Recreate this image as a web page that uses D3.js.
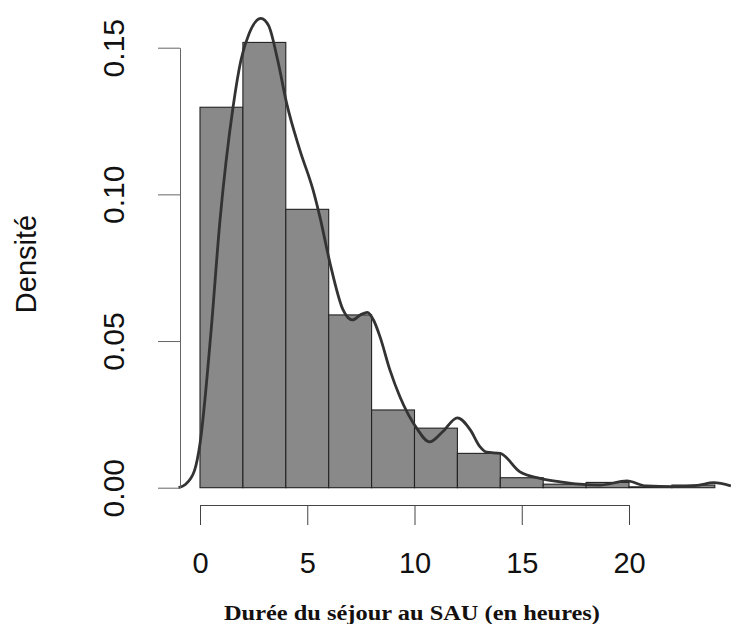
<!DOCTYPE html>
<html>
<head>
<meta charset="utf-8">
<script src="https://cdn.jsdelivr.net/npm/d3@7"></script>
<style>
  html, body { margin: 0; padding: 0; background: #fff; }
  svg { display: block; }
</style>
</head>
<body>
<div id="chart"></div>
<script>
// histogram bins (hours) and their densities
const binStarts = [0, 2, 4, 6, 8, 10, 12, 14, 16, 18, 20, 22];
const binWidth = 2;
const binDensity = [0.1297, 0.1518, 0.0949, 0.0589, 0.0265, 0.0203, 0.0117, 0.0034, 0.0012, 0.0018, 0.0003, 0.0009];

// kernel density curve
const densX = [-1.0, -0.7, -0.25, 0, 0.5, 0.93, 1.54, 1.91, 2.3, 2.84, 3.2, 3.62, 4.04, 4.66, 5.27, 5.6, 6.06, 6.67, 7.1, 7.5, 7.8, 8.1, 8.39, 8.86, 9.32, 10.1, 10.7, 11.3, 12.0, 12.6, 13.05, 13.37, 14.0, 14.9, 15.85, 16.8, 17.7, 18.65, 19.9, 20.8, 22.1, 23.2, 23.95, 24.75];
const densY = [0, 0.001, 0.006, 0.015, 0.052, 0.091, 0.1297, 0.1458, 0.155, 0.160, 0.1575, 0.1458, 0.131, 0.115, 0.1015, 0.092, 0.0766, 0.0606, 0.0572, 0.059, 0.0598, 0.057, 0.0515, 0.040, 0.031, 0.0203, 0.0156, 0.019, 0.0238, 0.0197, 0.014, 0.0121, 0.0117, 0.0055, 0.0032, 0.002, 0.0012, 0.0009, 0.0023, 0.0006, 0.0004, 0.0008, 0.0017, 0.0006];

const xTicks = [0, 5, 10, 15, 20];
const yTicks = [0, 0.05, 0.10, 0.15];

const width = 731, height = 624;

const svg = d3.select('#chart').append('svg')
    .attr('width', width)
    .attr('height', height);

svg.append('rect').attr('width', width).attr('height', height).attr('fill', '#fff');

const x = d3.scaleLinear().domain([0, 20]).range([200, 629]);
const y = d3.scaleLinear().domain([0, 0.15]).range([487.7, 47.7]);

// bars
svg.append('g')
    .selectAll('rect')
    .data(binStarts)
    .enter().append('rect')
    .attr('x', d => x(d))
    .attr('width', d => x(d + binWidth) - x(d))
    .attr('y', (d, i) => y(binDensity[i]))
    .attr('height', (d, i) => y(0) - y(binDensity[i]))
    .attr('fill', '#898989')
    .attr('stroke', '#222')
    .attr('stroke-width', 1.1);

// density line
const line = d3.line()
    .x(d => x(d[0]))
    .y(d => y(d[1]))
    .curve(d3.curveMonotoneX);

svg.append('path')
    .datum(densX.map((v, i) => [v, densY[i]]))
    .attr('d', line)
    .attr('fill', 'none')
    .attr('stroke', '#333')
    .attr('stroke-width', 2.8)
    .attr('stroke-linejoin', 'round');

// y axis
const yAxis = svg.append('g')
    .attr('transform', 'translate(180,0)')
    .call(d3.axisLeft(y).tickValues(yTicks).tickFormat(d3.format('.2f')).tickSize(22).tickSizeOuter(0));
yAxis.select('.domain').attr('stroke', '#666');
yAxis.selectAll('.tick line').attr('stroke', '#666');
yAxis.selectAll('.tick text')
    .attr('x', null).attr('dy', null)
    .attr('transform', 'translate(-56,0) rotate(-90)')
    .attr('text-anchor', 'middle')
    .attr('font-family', 'Liberation Sans, Arial, sans-serif')
    .attr('font-size', 30)
    .attr('fill', '#111');

// x axis
const xAxis = svg.append('g')
    .attr('transform', 'translate(0,505)')
    .call(d3.axisBottom(x).tickValues(xTicks).tickFormat(d3.format('d')).tickSize(20).tickSizeOuter(0));
xAxis.select('.domain').attr('stroke', '#444');
xAxis.selectAll('.tick line').attr('stroke', '#444');
xAxis.selectAll('.tick text')
    .attr('y', 68).attr('dy', null)
    .attr('font-family', 'Liberation Sans, Arial, sans-serif')
    .attr('font-size', 29)
    .attr('fill', '#111');

// axis titles
svg.append('text')
    .attr('transform', 'translate(36,264) rotate(-90)')
    .attr('text-anchor', 'middle')
    .attr('font-family', 'Liberation Sans, Arial, sans-serif')
    .attr('font-size', 29)
    .attr('fill', '#111')
    .text('Densité');

// the title in the picture is stretched sideways
svg.append('text')
    .attr('x', 224)
    .attr('y', 620)
    .attr('font-family', 'Liberation Serif, Times New Roman, serif')
    .attr('font-weight', 'bold')
    .attr('font-size', 20)
    .attr('textLength', 376)
    .attr('lengthAdjust', 'spacingAndGlyphs')
    .attr('fill', '#141010')
    .text('Durée du séjour au SAU (en heures)');
</script>
</body>
</html>
